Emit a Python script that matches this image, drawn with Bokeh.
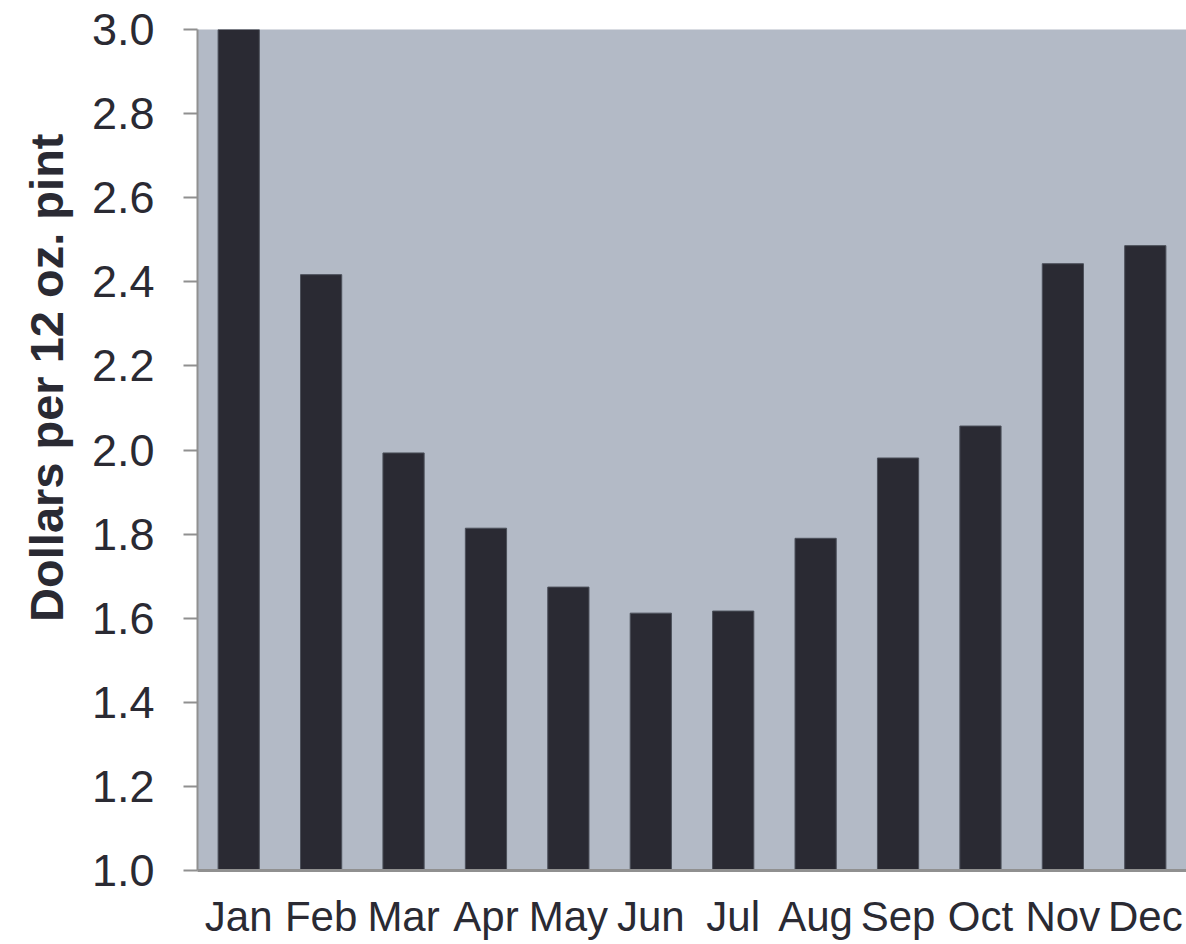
from bokeh.plotting import figure
from bokeh.models import ColumnDataSource, FixedTicker, Range1d, CustomJSTickFormatter, Title
from bokeh.embed import file_html
from bokeh.resources import INLINE

months = ["Jan", "Feb", "Mar", "Apr", "May", "Jun", "Jul", "Aug", "Sep", "Oct", "Nov", "Dec"]
prices = [3.0, 2.417, 1.993, 1.814, 1.674, 1.612, 1.617, 1.790, 1.981, 2.057, 2.443, 2.486]
y_ticks = [1.0, 1.2, 1.4, 1.6, 1.8, 2.0, 2.2, 2.4, 2.6, 2.8, 3.0]
y_title = "Dollars per 12 oz. pint"

src = ColumnDataSource(dict(month=months, price=prices))

p = figure(x_range=months, y_range=Range1d(1.0, 3.0), width=1186, height=944,
           output_backend="svg", toolbar_location=None,
           min_border_left=197, min_border_top=29, min_border_right=0, min_border_bottom=74)

p.vbar(x="month", top="price", bottom=1.0, width=0.5, source=src,
       fill_color="#2A2A33", line_color="#4C505A", line_width=1)

p.background_fill_color = "#B3BAC6"
p.border_fill_color = "white"
p.outline_line_color = None
p.xgrid.grid_line_color = None
p.ygrid.grid_line_color = None

p.yaxis.ticker = FixedTicker(ticks=y_ticks)
p.yaxis.formatter = CustomJSTickFormatter(code="return tick.toFixed(1);")
p.yaxis.major_label_text_font = "Liberation Sans"
p.yaxis.major_label_text_font_size = "45px"
p.yaxis.major_label_text_color = "#2A2A33"
p.yaxis.major_label_standoff = 29
p.yaxis.major_tick_out = 14
p.yaxis.major_tick_in = 0
p.yaxis.minor_tick_out = 0
p.yaxis.minor_tick_in = 0
p.yaxis.axis_line_color = "#909090"
p.yaxis.axis_line_width = 2
p.yaxis.major_tick_line_color = "#909090"
p.yaxis.major_tick_line_width = 2

p.xaxis.major_label_text_font = "Liberation Sans"
p.xaxis.major_label_text_font_size = "42px"
p.xaxis.major_label_text_color = "#2A2A33"
p.xaxis.major_label_standoff = 22
p.xaxis.major_tick_out = 0
p.xaxis.major_tick_in = 0
p.xaxis.axis_line_color = "#909090"
p.xaxis.axis_line_width = 3

ytitle = Title(text=y_title, align="right", offset=104, standoff=28,
               vertical_align="top",
               text_font="Liberation Sans", text_font_style="bold",
               text_font_size="47px", text_color="#2A2A33")
p.add_layout(ytitle, "left")

open("out.html", "w").write(file_html(p, INLINE))
